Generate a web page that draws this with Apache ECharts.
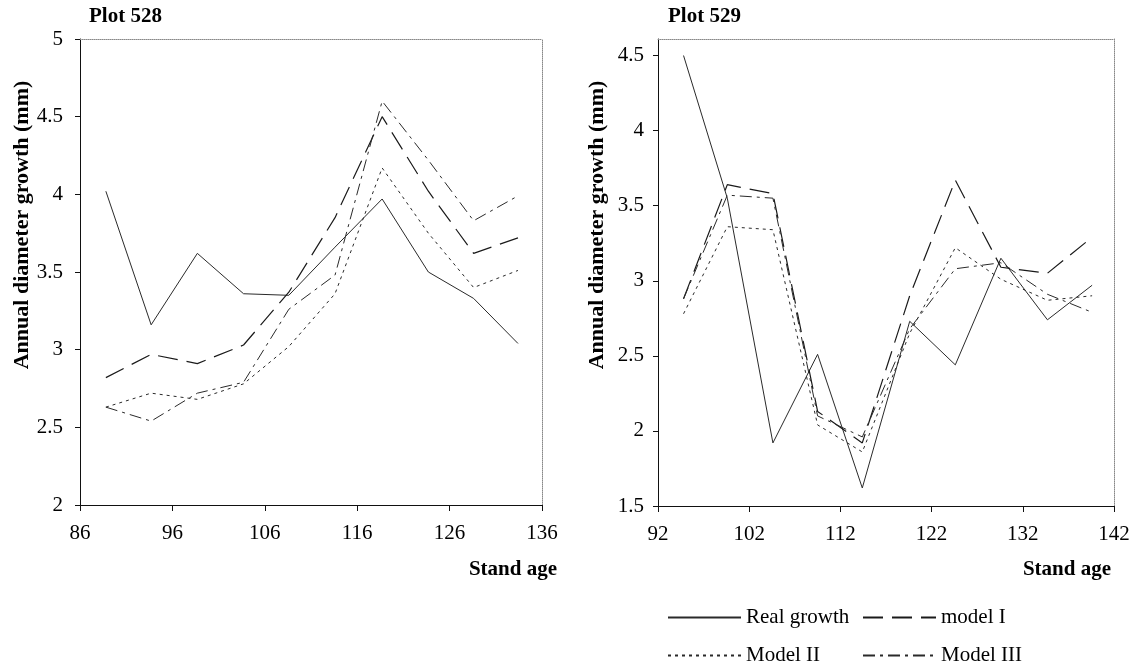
<!DOCTYPE html>
<html>
<head>
<meta charset="utf-8">
<script src="https://cdn.jsdelivr.net/npm/echarts@6/dist/echarts.min.js"></script>
<style>
html,body{margin:0;padding:0;background:#fff;}
#chart{width:1137px;height:668px;}
</style>
</head>
<body>
<div id="chart"></div>
<script>
// ---- Data ----
var seriesNames = ['Real growth', 'model I', 'Model II', 'Model III'];

// Plot 528
var ageLeft = [88.8, 93.7, 98.7, 103.7, 108.6, 113.6, 118.7, 123.7, 128.6, 133.4];
var realLeft = [4.02, 3.16, 3.62, 3.36, 3.35, 3.66, 3.97, 3.50, 3.33, 3.04];
var model1Left = [2.82, 2.97, 2.91, 3.03, 3.37, 3.85, 4.50, 4.02, 3.62, 3.72];
var model2Left = [2.63, 2.72, 2.68, 2.78, 3.02, 3.36, 4.17, 3.75, 3.40, 3.51];
var model3Left = [2.63, 2.54, 2.72, 2.79, 3.26, 3.48, 4.60, 4.22, 3.83, 3.99];

// Plot 529
var ageRight = [94.8, 99.6, 104.6, 109.5, 114.4, 119.6, 124.6, 129.6, 134.7, 139.6];
var realRight = [4.50, 3.55, 1.92, 2.51, 1.62, 2.73, 2.44, 3.15, 2.74, 2.97];
var model1Right = [2.88, 3.64, 3.58, 2.13, 1.92, 2.90, 3.67, 3.09, 3.05, 3.29];
var model2Right = [2.78, 3.36, 3.34, 2.04, 1.86, 2.65, 3.22, 3.01, 2.87, 2.90];
var model3Right = [2.88, 3.57, 3.55, 2.10, 1.96, 2.68, 3.08, 3.12, 2.91, 2.79];

// Tick labels
var xTicksLeft = [86, 96, 106, 116, 126, 136];
var yTicksLeft = [2, 2.5, 3, 3.5, 4, 4.5, 5];
var xTicksRight = [92, 102, 112, 122, 132, 142];
var yTicksRight = [1.5, 2, 2.5, 3, 3.5, 4, 4.5];

// ---- Styles ----
var FONT = 'Liberation Serif';
var lineStyles = [
  {color: '#2a2a2a', width: 1, type: 'solid'},
  {color: '#1a1a1a', width: 1.2, type: [20, 9]},
  {color: '#2a2a2a', width: 1, type: [3, 4]},
  {color: '#2a2a2a', width: 1, type: [12, 5, 3, 5]}
];

function pairs(xs, ys) {
  return xs.map(function (x, i) { return [x, ys[i]]; });
}

function mainX(grid, min, max, ticks) {
  return {
    type: 'value', gridIndex: grid, position: 'bottom',
    min: min, max: max, interval: 10,
    axisLine: {show: true, onZero: false, lineStyle: {color: '#111', width: 1}},
    axisTick: {show: true, inside: false, length: 6, lineStyle: {color: '#111'}, customValues: ticks},
    axisLabel: {show: true, margin: 18, fontFamily: FONT, fontSize: 21, color: '#000', customValues: ticks,
      showMinLabel: true, showMaxLabel: true},
    splitLine: {show: false}
  };
}
function borderX(grid, min, max) {
  return {
    type: 'value', gridIndex: grid, position: 'top', min: min, max: max,
    axisLine: {show: true, onZero: false, lineStyle: {color: '#888', width: 1, type: 'dotted'}},
    axisTick: {show: false}, axisLabel: {show: false}, splitLine: {show: false}
  };
}
function mainY(grid, min, max, ticks, margin) {
  return {
    type: 'value', gridIndex: grid, position: 'left',
    min: min, max: max, interval: 0.5,
    axisLine: {show: true, onZero: false, lineStyle: {color: '#111', width: 1}},
    axisTick: {show: true, inside: false, length: 5, lineStyle: {color: '#111'}, customValues: ticks},
    axisLabel: {show: true, margin: margin, fontFamily: FONT, fontSize: 21, color: '#000', customValues: ticks,
      showMinLabel: true, showMaxLabel: true},
    splitLine: {show: false}
  };
}
function borderY(grid, min, max) {
  return {
    type: 'value', gridIndex: grid, position: 'right', min: min, max: max,
    axisLine: {show: true, onZero: false, lineStyle: {color: '#888', width: 1, type: 'dotted'}},
    axisTick: {show: false}, axisLabel: {show: false}, splitLine: {show: false}
  };
}

var leftSets = [realLeft, model1Left, model2Left, model3Left];
var rightSets = [realRight, model1Right, model2Right, model3Right];
var series = [];
seriesNames.forEach(function (name, i) {
  series.push({
    name: name, type: 'line', xAxisIndex: 0, yAxisIndex: 0,
    data: pairs(ageLeft, leftSets[i]), symbol: 'none', smooth: false,
    lineStyle: lineStyles[i], itemStyle: {color: lineStyles[i].color},
    emphasis: {disabled: true}, animation: false
  });
});
seriesNames.forEach(function (name, i) {
  series.push({
    name: name, type: 'line', xAxisIndex: 2, yAxisIndex: 2,
    data: pairs(ageRight, rightSets[i]), symbol: 'none', smooth: false,
    lineStyle: lineStyles[i], itemStyle: {color: lineStyles[i].color},
    emphasis: {disabled: true}, animation: false
  });
});

function legendAt(name, left, top) {
  return {
    show: true, data: [name], left: left, top: top, padding: 0,
    orient: 'horizontal', itemWidth: 73, itemHeight: 14, selectedMode: false,
    itemStyle: {color: 'rgba(0,0,0,0)', borderColor: 'rgba(0,0,0,0)', borderWidth: 0, opacity: 0},
    textStyle: {fontFamily: FONT, fontSize: 21, color: '#000'}
  };
}

var boldText = {fontFamily: FONT, fontSize: 21, fontWeight: 'bold', color: '#000'};

var option = {
  backgroundColor: '#fff',
  animation: false,
  title: [
    {text: 'Plot 528', left: 89, top: 6, padding: 0, textStyle: boldText},
    {text: 'Plot 529', left: 668, top: 6, padding: 0, textStyle: boldText}
  ],
  legend: [
    legendAt('Real growth', 667, 607),
    legendAt('model I', 862, 607),
    legendAt('Model II', 667, 645),
    legendAt('Model III', 862, 645)
  ],
  grid: [
    {left: 80, top: 39, width: 462, height: 466, outerBoundsMode: 'none', containLabel: false, show: false},
    {left: 658, top: 39, width: 456, height: 467, outerBoundsMode: 'none', containLabel: false, show: false}
  ],
  xAxis: [
    mainX(0, 86, 136, xTicksLeft),
    borderX(0, 86, 136),
    mainX(1, 92, 142, xTicksRight),
    borderX(1, 92, 142)
  ],
  yAxis: [
    mainY(0, 2, 5, yTicksLeft, 17),
    borderY(0, 2, 5),
    mainY(1, 1.5, 4.61, yTicksRight, 14),
    borderY(1, 1.5, 4.61)
  ],
  graphic: [
    {type: 'text', x: 22, y: 225, rotation: Math.PI / 2,
      style: {text: 'Annual diameter growth (mm)', font: 'bold 22px "Liberation Serif"', fill: '#000',
        textAlign: 'center', textVerticalAlign: 'middle'}},
    {type: 'text', x: 597, y: 225, rotation: Math.PI / 2,
      style: {text: 'Annual diameter growth (mm)', font: 'bold 22px "Liberation Serif"', fill: '#000',
        textAlign: 'center', textVerticalAlign: 'middle'}},
    {type: 'text', x: 557, y: 570,
      style: {text: 'Stand age', font: 'bold 21px "Liberation Serif"', fill: '#000',
        textAlign: 'right', textVerticalAlign: 'middle'}},
    {type: 'text', x: 1111, y: 570,
      style: {text: 'Stand age', font: 'bold 21px "Liberation Serif"', fill: '#000',
        textAlign: 'right', textVerticalAlign: 'middle'}}
  ],
  tooltip: {show: false},
  series: series
};

var chart = echarts.init(document.getElementById('chart'), null, {renderer: 'canvas'});
chart.setOption(option);
</script>
</body>
</html>
